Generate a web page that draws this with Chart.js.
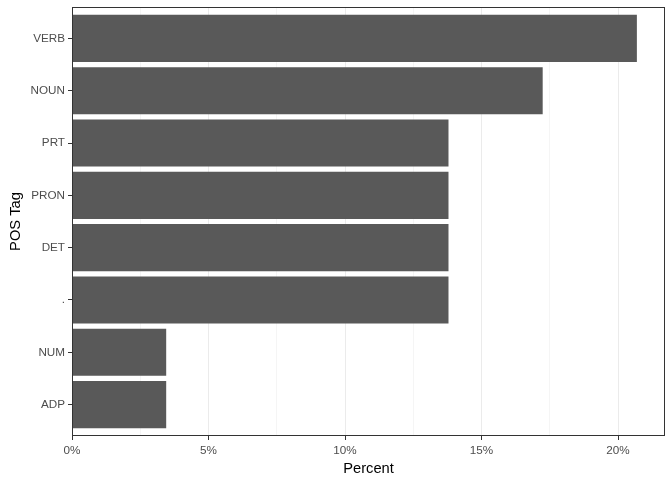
<!DOCTYPE html>
<html>
<head>
<meta charset="utf-8">
<script src="https://cdn.jsdelivr.net/npm/chart.js@4/dist/chart.umd.min.js"></script>
<style>
html,body{margin:0;padding:0;background:#fff;}
#wrap{width:672px;height:480px;}
</style>
</head>
<body>
<div id="wrap"><canvas id="c" width="672" height="480"></canvas></div>
<script>
// Categories listed bottom to top
const categories = ["ADP", "NUM", ".", "DET", "PRON", "PRT", "NOUN", "VERB"];
const percentValues = [3.45, 3.45, 13.79, 13.79, 13.79, 13.79, 17.24, 20.69];
const xTickValues = [0, 5, 10, 15, 20];
const xAxisTitle = "Percent";
const yAxisTitle = "POS Tag";

const points = categories.map((c, i) => ({ x: percentValues[i], y: i + 1 }));

const panelBorder = {
  id: 'panelBorder',
  afterDatasetsDraw(chart) {
    const { ctx, chartArea: a } = chart;
    ctx.save();
    ctx.strokeStyle = '#333333';
    ctx.lineWidth = 1;
    ctx.strokeRect(Math.round(a.left) + 0.5, Math.round(a.top) + 0.5,
      Math.round(a.right - a.left) - 1, Math.round(a.bottom - a.top) - 1);
    ctx.restore();
  }
};

Chart.defaults.font.family = '"Liberation Sans", Arial, sans-serif';

new Chart(document.getElementById('c'), {
  type: 'bar',
  data: {
    datasets: [{
      data: points,
      backgroundColor: '#595959',
      borderWidth: 0,
      categoryPercentage: 1,
      barPercentage: 0.9
    }]
  },
  plugins: [panelBorder],
  options: {
    indexAxis: 'y',
    responsive: false,
    animation: false,
    devicePixelRatio: 1,
    layout: { padding: { top: 7, right: 7, left: 3, bottom: 0 } },
    plugins: { legend: { display: false }, tooltip: { enabled: false } },
    scales: {
      x: {
        type: 'linear',
        min: 0,
        max: 21.72,
        afterBuildTicks(scale) {
          const t = [];
          for (let v = 0; v <= 21.72; v += 2.5) t.push({ value: v });
          scale.ticks = t;
        },
        afterFit(scale) { scale.height = 44; },
        ticks: {
          color: '#4D4D4D',
          font: { size: 11.7 },
          padding: 4,
          maxRotation: 0,
          autoSkip: false,
          callback: (v) => xTickValues.includes(v) ? v + '%' : ''
        },
        grid: {
          color: '#EBEBEB',
          lineWidth: (ctx) => (ctx.tick && xTickValues.includes(ctx.tick.value)) ? 1 : 0.5,
          tickColor: (ctx) => (ctx.tick && xTickValues.includes(ctx.tick.value)) ? '#333333' : 'rgba(0,0,0,0)',
          tickLength: 4,
          tickWidth: 1
        },
        border: { display: false },
        title: {
          display: true,
          text: xAxisTitle,
          color: '#000000',
          font: { size: 14.7 },
          padding: { top: 0, bottom: 2 }
        }
      },
      y: {
        type: 'linear',
        min: 0.4,
        max: 8.6,
        offset: false,
        afterBuildTicks(scale) {
          scale.ticks = categories.map((c, i) => ({ value: i + 1 }));
        },
        afterFit(scale) { scale.width = 69; scale.paddingTop = 0; scale.paddingBottom = 0; },
        ticks: {
          color: '#4D4D4D',
          font: { size: 11.7 },
          padding: 3,
          autoSkip: false,
          callback: (v) => categories[v - 1]
        },
        grid: {
          offset: false,
          drawOnChartArea: false,
          tickColor: '#333333',
          tickLength: 4,
          tickWidth: 1
        },
        border: { display: false },
        title: {
          display: true,
          text: yAxisTitle,
          color: '#000000',
          font: { size: 14.7 },
          padding: { top: 4, bottom: 0 }
        }
      }
    }
  }
});
</script>
</body>
</html>
